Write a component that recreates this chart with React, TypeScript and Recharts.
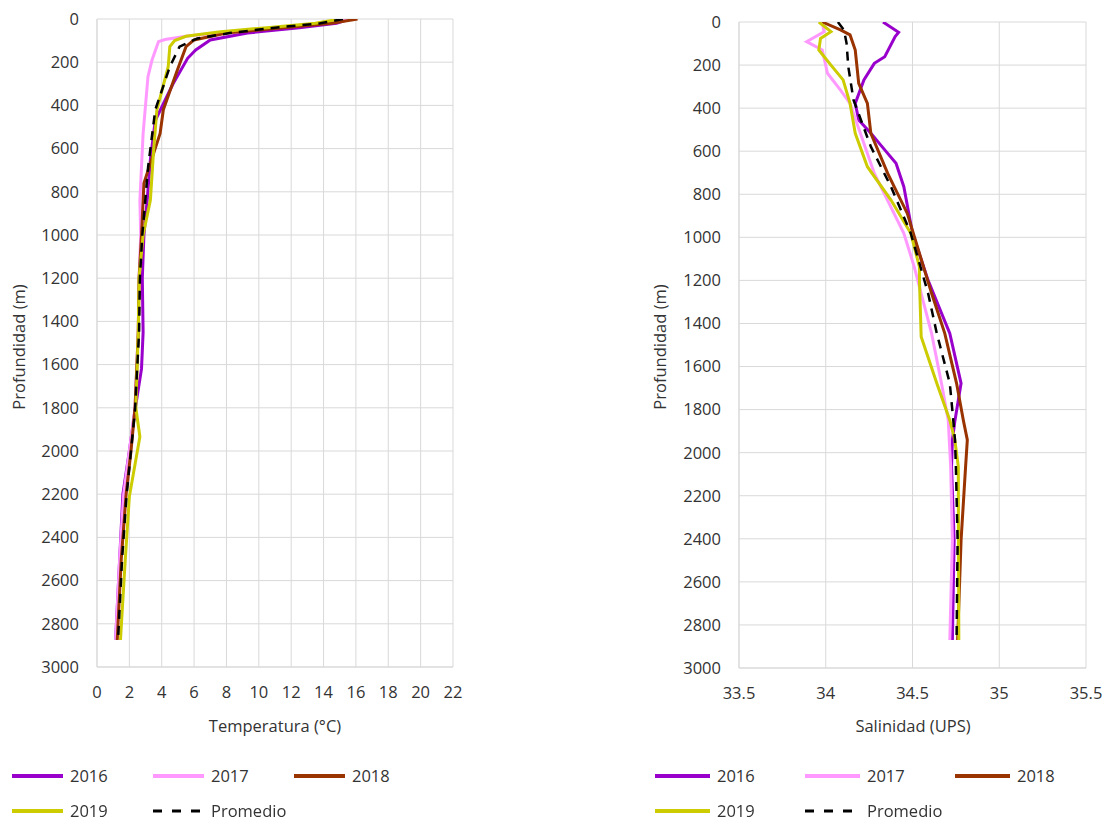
import React from 'react';
import { LineChart, Line, XAxis, YAxis, CartesianGrid } from 'recharts';

// depth (m), value
const temp2016: [number, number][] = [
  [0, 15.6], [20, 14.8], [40, 12.5], [65, 9.3], [97, 7.0], [143, 6.1], [182, 5.6], [300, 4.7],
  [470, 3.6], [650, 3.3], [840, 3.1], [1000, 2.9], [1200, 2.8], [1450, 2.85], [1620, 2.75],
  [1810, 2.35], [2000, 2.0], [2200, 1.6], [2500, 1.4], [2875, 1.15],
];
const temp2017: [number, number][] = [
  [0, 15.5], [20, 14.0], [40, 11.0], [60, 8.0], [80, 5.5], [95, 4.2], [105, 3.8], [190, 3.4],
  [267, 3.15], [530, 2.85], [840, 2.65], [1000, 2.7], [1200, 2.6], [1450, 2.55], [1800, 2.35],
  [2000, 2.0], [2200, 1.65], [2500, 1.4], [2875, 1.15],
];
const temp2018: [number, number][] = [
  [0, 16.1], [20, 14.5], [40, 11.5], [65, 8.0], [97, 6.0], [128, 5.5], [250, 4.9], [420, 4.1],
  [530, 3.9], [760, 2.9], [1000, 2.75], [1200, 2.6], [1450, 2.55], [1800, 2.35], [2000, 2.1],
  [2200, 1.8], [2500, 1.5], [2875, 1.25],
];
const temp2019: [number, number][] = [
  [0, 15.0], [20, 13.5], [40, 10.5], [60, 7.5], [80, 5.5], [100, 4.8], [128, 4.5], [221, 4.4],
  [421, 3.7], [606, 3.5], [838, 3.3], [1000, 2.85], [1200, 2.6], [1450, 2.55], [1800, 2.4],
  [1934, 2.65], [2211, 2.0], [2500, 1.75], [2875, 1.45],
];
const tempMean: [number, number][] = [
  [0, 15.2], [20, 13.8], [40, 11.0], [65, 8.2], [90, 6.2], [128, 5.1], [221, 4.5], [421, 3.6],
  [684, 3.16], [1000, 2.8], [1200, 2.65], [1450, 2.6], [1810, 2.35], [2000, 2.1], [2211, 1.82],
  [2500, 1.55], [2875, 1.3],
];

const sal2016: [number, number][] = [
  [0, 34.33], [48, 34.42], [68, 34.4], [161, 34.34], [192, 34.28], [269, 34.22], [378, 34.17],
  [455, 34.19], [517, 34.26], [594, 34.34], [656, 34.405], [765, 34.45], [981, 34.5], [1200, 34.59],
  [1446, 34.715], [1678, 34.78], [1849, 34.745], [1941, 34.73], [2065, 34.725], [2406, 34.74], [2870, 34.73],
];
const sal2017: [number, number][] = [
  [0, 33.98], [45, 33.99], [91, 33.89], [130, 33.98], [238, 34.01], [316, 34.085], [378, 34.14],
  [703, 34.28], [981, 34.45], [1137, 34.51], [1446, 34.61], [1678, 34.667], [1849, 34.706],
  [2065, 34.72], [2406, 34.73], [2870, 34.715],
];
const sal2018: [number, number][] = [
  [0, 33.98], [37, 34.085], [60, 34.14], [130, 34.17], [285, 34.19], [378, 34.24], [517, 34.26],
  [703, 34.357], [889, 34.47], [1260, 34.61], [1446, 34.686], [1678, 34.754], [1849, 34.793],
  [1941, 34.816], [2065, 34.806], [2406, 34.78], [2870, 34.76],
];
const sal2019: [number, number][] = [
  [0, 33.96], [45, 34.03], [76, 33.97], [130, 33.96], [200, 34.03], [269, 34.1], [378, 34.14],
  [517, 34.17], [672, 34.24], [827, 34.376], [981, 34.49], [1137, 34.54], [1198, 34.54], [1462, 34.55],
  [1678, 34.64], [1849, 34.715], [1941, 34.744], [2065, 34.764], [2406, 34.765], [2870, 34.767],
];
const salMean: [number, number][] = [
  [0, 34.07], [37, 34.105], [99, 34.12], [208, 34.13], [362, 34.16], [579, 34.26], [765, 34.376],
  [981, 34.49], [1260, 34.59], [1446, 34.64], [1678, 34.715], [1849, 34.735], [1941, 34.745],
  [2065, 34.75], [2406, 34.76], [2870, 34.754],
];

const depthTicks = [0, 200, 400, 600, 800, 1000, 1200, 1400, 1600, 1800, 2000, 2200, 2400, 2600, 2800, 3000];
const tempTicks = [0, 2, 4, 6, 8, 10, 12, 14, 16, 18, 20, 22];
const salTicks = [33.5, 34, 34.5, 35, 35.5];

const seriesNames = ['2016', '2017', '2018', '2019', 'Promedio'];
const colors = ['#9900CC', '#FF99FF', '#993300', '#CCCC00', '#000000'];

const TEXT = '#333333';
const GRID = '#D9D9D9';
const CHART_H = 745;

const toRows = (pairs: [number, number][]) => pairs.map(([d, v]) => ({ d, v }));

interface ProfileProps {
  left: number;
  width: number;
  plotTop: number;
  plotBottom: number;
  series: [number, number][][];
  domain: [number, number];
  ticks: number[];
}

const Profile: React.FC<ProfileProps> = ({ left, width, plotTop, plotBottom, series, domain, ticks }) => (
  <div style={{ position: 'absolute', left, top: 0 }}>
    <LineChart width={width} height={CHART_H} margin={{ top: plotTop, right: 16, left: 0, bottom: 0 }}>
      <CartesianGrid stroke={GRID} />
      <XAxis
        dataKey="v"
        type="number"
        domain={domain}
        ticks={ticks}
        interval={0}
        allowDataOverflow
        tickLine={false}
        tickSize={0}
        tickMargin={19}
        height={CHART_H - plotBottom}
        axisLine={{ stroke: GRID }}
        tick={{ fill: TEXT, fontSize: 16.5 }}
      />
      <YAxis
        type="number"
        reversed
        domain={[0, 3000]}
        ticks={depthTicks}
        interval={0}
        allowDataOverflow
        tickLine={false}
        tickSize={0}
        tickMargin={18}
        width={97}
        axisLine={{ stroke: GRID }}
        tick={{ fill: TEXT, fontSize: 16.5 }}
      />
      {series.map((s, i) => (
        <Line
          key={seriesNames[i]}
          data={toRows(s)}
          dataKey="d"
          type="linear"
          stroke={colors[i]}
          strokeWidth={i === 4 ? 2.5 : 3}
          strokeDasharray={i === 4 ? '9 7' : undefined}
          dot={false}
          isAnimationActive={false}
        />
      ))}
    </LineChart>
  </div>
);

const LegendItem: React.FC<{ x: number; y: number; idx: number; w: number }> = ({ x, y, idx, w }) => (
  <div
    style={{
      position: 'absolute',
      left: x,
      top: y - 9,
      height: 18,
      lineHeight: '18px',
      display: 'flex',
      alignItems: 'center',
    }}
  >
    <svg width={w} height={8} style={{ display: 'block' }}>
      <line
        x1={0}
        y1={4}
        x2={w}
        y2={4}
        stroke={colors[idx]}
        strokeWidth={idx === 4 ? 3 : 4}
        strokeDasharray={idx === 4 ? '9 10' : undefined}
      />
    </svg>
    <span style={{ marginLeft: 7, fontSize: 16.5, color: TEXT }}>{seriesNames[idx]}</span>
  </div>
);

const legendSlots = (x0: number, dx: number) => [
  { x: x0, y: 776 },
  { x: x0 + dx, y: 776 },
  { x: x0 + 2 * dx, y: 776 },
  { x: x0, y: 811 },
  { x: x0 + dx, y: 811 },
];

const App: React.FC = () => (
  <div
    style={{
      position: 'fixed',
      left: 0,
      top: 0,
      width: 1111,
      height: 821,
      background: '#fff',
      fontFamily: "'Open Sans', sans-serif",
      color: TEXT,
    }}
  >
    <Profile
      left={0}
      width={469}
      plotTop={19}
      plotBottom={667}
      series={[temp2016, temp2017, temp2018, temp2019, tempMean]}
      domain={[0, 22]}
      ticks={tempTicks}
    />
    <Profile
      left={642}
      width={460}
      plotTop={22}
      plotBottom={668}
      series={[sal2016, sal2017, sal2018, sal2019, salMean]}
      domain={[33.5, 35.5]}
      ticks={salTicks}
    />

    {/* axis titles */}
    <div style={{ position: 'absolute', left: 18, top: 347, transform: 'translate(-50%, -50%) rotate(-90deg)', whiteSpace: 'nowrap', fontSize: 16.5 }}>
      Profundidad (m)
    </div>
    <div style={{ position: 'absolute', left: 659, top: 347, transform: 'translate(-50%, -50%) rotate(-90deg)', whiteSpace: 'nowrap', fontSize: 16.5 }}>
      Profundidad (m)
    </div>
    <div style={{ position: 'absolute', left: 275, top: 725, transform: 'translate(-50%, -50%)', whiteSpace: 'nowrap', fontSize: 16.5 }}>
      Temperatura (°C)
    </div>
    <div style={{ position: 'absolute', left: 913, top: 725, transform: 'translate(-50%, -50%)', whiteSpace: 'nowrap', fontSize: 16.5 }}>
      Salinidad (UPS)
    </div>

    {/* legends */}
    {legendSlots(12, 141).map((p, i) => (
      <LegendItem key={'l' + i} x={p.x} y={p.y} idx={i} w={51} />
    ))}
    {legendSlots(655, 150).map((p, i) => (
      <LegendItem key={'r' + i} x={p.x} y={p.y} idx={i} w={55} />
    ))}
  </div>
);

export default App;
